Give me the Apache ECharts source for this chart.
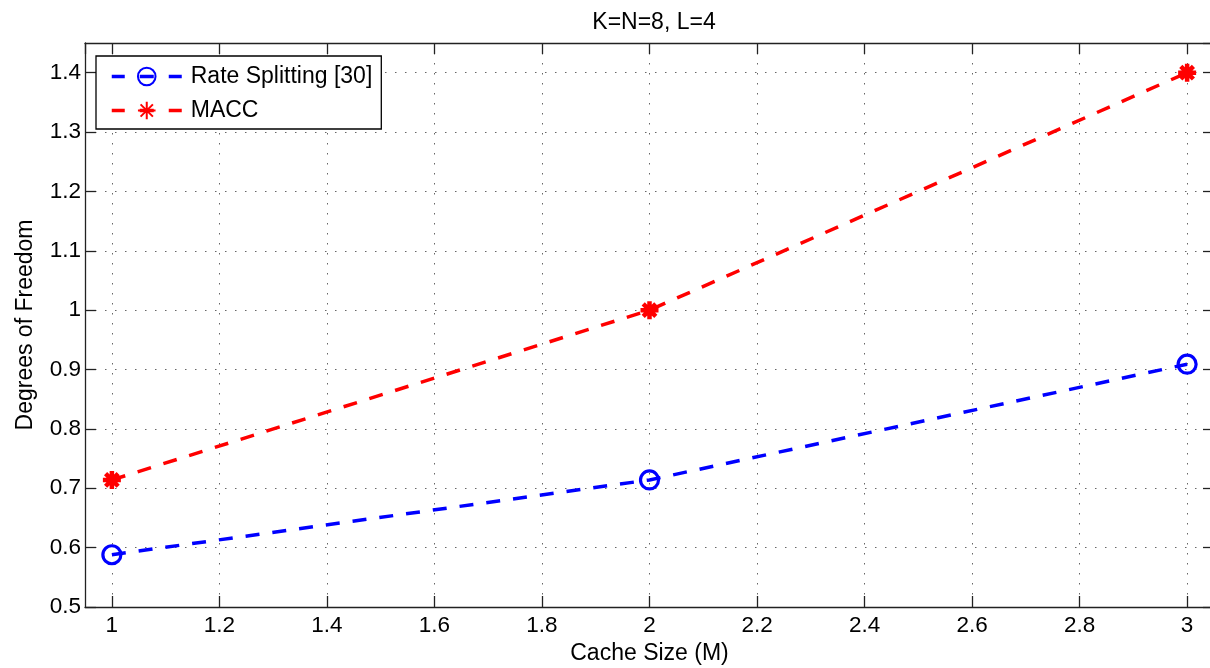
<!DOCTYPE html>
<html>
<head>
<meta charset="utf-8">
<script src="https://cdn.jsdelivr.net/npm/echarts@6/dist/echarts.min.js"></script>
<style>
html,body{margin:0;padding:0;background:#fff;}
#chart{width:1210px;height:668px;}
</style>
</head>
<body>
<div id="chart"></div>
<script>
// ---- data ----
const titleText = 'K=N=8, L=4';
const xName = 'Cache Size (M)';
const yName = 'Degrees of Freedom';
const cacheSize = [1, 2, 3];
const rateSplitting = [0.588, 0.714, 0.909];
const macc = [0.714, 1.0, 1.4];
const seriesNames = ['Rate Splitting [30]', 'MACC'];

const FONT = '"Liberation Sans", Arial, Helvetica, sans-serif';
const pairs = (xs, ys) => xs.map((x, i) => [x, ys[i]]);
const asterisk = 'path://M10 0L10 20M0 10L20 10M3 3L17 17M3 17L17 3';

const gridDots = { show: true, lineStyle: { type: [1.5, 8.5], color: '#666', width: 1 } };
const axisLine = { show: true, onZero: false, lineStyle: { color: '#222', width: 1.3 } };
const tick = { show: true, inside: true, length: 11, lineStyle: { color: '#222', width: 1.3 } };

const xBase = { type: 'value', min: 0.95, max: 3.05, splitNumber: 10, minInterval: 0.2, maxInterval: 0.2 };
const yBase = { type: 'value', min: 0.5, max: 1.45, interval: 0.1 };

const chart = echarts.init(document.getElementById('chart'), null, { renderer: 'canvas' });
chart.setOption({
  animation: false,
  backgroundColor: '#fff',
  textStyle: { fontFamily: FONT, color: '#000' },
  title: {
    text: titleText, left: 649, top: 6, textAlign: 'center',
    textStyle: { fontFamily: FONT, fontSize: 23, fontWeight: 'normal', color: '#000' }
  },
  grid: { left: 85, top: 43, right: -4, bottom: 61, containLabel: false, outerBoundsMode: 'none' },
  legend: {
    orient: 'vertical', left: 96, top: 56,
    itemWidth: 70, itemHeight: 22, itemGap: 11,
    padding: [9, 9, 7, 14],
    backgroundColor: '#fff', borderColor: '#000', borderWidth: 1.3,
    textStyle: { fontFamily: FONT, fontSize: 23, color: '#000', padding: [0, 0, 0, 4] },
    lineStyle: { type: [13, 15, 14, 15, 13], width: 3.5 },
    data: seriesNames
  },
  xAxis: [
    Object.assign({}, xBase, {
      position: 'bottom',
      name: xName, nameLocation: 'middle', nameGap: 33,
      nameTextStyle: { fontFamily: FONT, fontSize: 23, color: '#000' },
      axisLine: axisLine, axisTick: tick, splitLine: gridDots,
      axisLabel: {
        fontFamily: FONT, fontSize: 22.5, color: '#000', margin: 7,
        showMinLabel: false, showMaxLabel: false,
        formatter: v => (Math.abs(v * 5 - Math.round(v * 5)) < 1e-6 ? String(+v.toFixed(1)) : '')
      }
    }),
    Object.assign({}, xBase, {
      position: 'top', axisLine: axisLine, axisTick: tick,
      axisLabel: { show: false }, splitLine: { show: false }
    })
  ],
  yAxis: [
    Object.assign({}, yBase, {
      position: 'left',
      name: yName, nameLocation: 'middle', nameGap: 48,
      nameTextStyle: { fontFamily: FONT, fontSize: 23, color: '#000' },
      axisLine: axisLine, axisTick: tick, splitLine: gridDots,
      axisLabel: {
        fontFamily: FONT, fontSize: 22.5, color: '#000', margin: 4,
        showMaxLabel: false,
        formatter: v => String(+v.toFixed(1))
      }
    }),
    Object.assign({}, yBase, {
      position: 'right', axisLine: axisLine, axisTick: tick,
      axisLabel: { show: false }, splitLine: { show: false }
    })
  ],
  series: [
    {
      name: seriesNames[0], type: 'line', xAxisIndex: 0, yAxisIndex: 0,
      data: pairs(cacheSize, rateSplitting),
      color: '#0000ff',
      symbol: 'circle', symbolSize: 18,
      lineStyle: { color: '#0000ff', width: 3.5, type: [14, 13] },
      itemStyle: { color: 'rgba(0,0,0,0)', borderColor: '#0000ff', borderWidth: 3.2 },
      z: 3
    },
    {
      name: seriesNames[1], type: 'line', xAxisIndex: 0, yAxisIndex: 0,
      data: pairs(cacheSize, macc),
      color: '#ff0000',
      symbol: asterisk, symbolSize: 18,
      lineStyle: { color: '#ff0000', width: 3.5, type: [14, 13] },
      itemStyle: { color: 'rgba(0,0,0,0)', borderColor: '#ff0000', borderWidth: 4.5 },
      z: 3
    }
  ]
});
</script>
</body>
</html>
